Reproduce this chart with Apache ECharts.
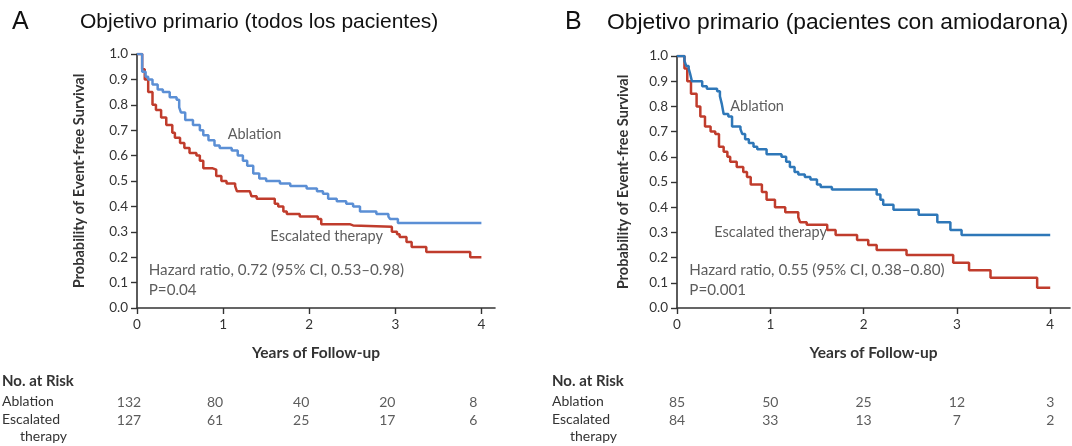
<!DOCTYPE html>
<html>
<head>
<meta charset="utf-8">
<script src="https://cdn.jsdelivr.net/npm/echarts@6/dist/echarts.min.js"></script>
<style>
  html, body { margin: 0; padding: 0; background: #fff; }
  #chart { width: 1072px; height: 446px; }
</style>
</head>
<body>
<div id="chart"></div>
<script>
// Kaplan-Meier event-free survival, two panels
const yearTicks = [0, 1, 2, 3, 4];
const probTicks = [0, 0.1, 0.2, 0.3, 0.4, 0.5, 0.6, 0.7, 0.8, 0.9, 1.0];

// Panel A: all patients
const ablA_t = [0, 0.06, 0.10, 0.13, 0.18, 0.24, 0.30, 0.38, 0.46, 0.49, 0.51, 0.56, 0.65, 0.73, 0.77, 0.83, 0.90, 0.96, 1.10, 1.17, 1.23, 1.28, 1.35, 1.42, 1.50, 1.66, 1.78, 1.97, 2.09, 2.16, 2.22, 2.32, 2.43, 2.51, 2.59, 2.78, 2.92, 2.94, 3.03, 4.00];
const ablA_s = [1.0, 0.93, 0.91, 0.90, 0.88, 0.86, 0.85, 0.83, 0.82, 0.79, 0.77, 0.74, 0.72, 0.70, 0.68, 0.66, 0.64, 0.63, 0.62, 0.60, 0.58, 0.56, 0.53, 0.51, 0.50, 0.49, 0.48, 0.47, 0.46, 0.45, 0.43, 0.42, 0.41, 0.40, 0.38, 0.37, 0.36, 0.35, 0.335, 0.335];
const escA_t = [0, 0.06, 0.09, 0.13, 0.18, 0.22, 0.28, 0.34, 0.41, 0.44, 0.50, 0.55, 0.61, 0.69, 0.73, 0.77, 0.88, 0.92, 0.98, 1.04, 1.14, 1.16, 1.31, 1.33, 1.39, 1.60, 1.64, 1.70, 1.74, 1.89, 2.10, 2.14, 2.47, 2.51, 2.96, 3.02, 3.05, 3.13, 3.19, 3.36, 3.87, 4.00];
const escA_s = [1.0, 0.94, 0.90, 0.85, 0.80, 0.78, 0.75, 0.72, 0.69, 0.67, 0.65, 0.63, 0.61, 0.60, 0.58, 0.55, 0.545, 0.52, 0.50, 0.49, 0.48, 0.46, 0.455, 0.44, 0.43, 0.41, 0.40, 0.38, 0.37, 0.36, 0.35, 0.33, 0.325, 0.32, 0.30, 0.29, 0.28, 0.26, 0.24, 0.22, 0.20, 0.20];

// Panel B: amiodarone patients
const ablB_t = [0, 0.08, 0.10, 0.125, 0.14, 0.16, 0.27, 0.32, 0.43, 0.46, 0.48, 0.50, 0.55, 0.59, 0.68, 0.70, 0.73, 0.77, 0.82, 0.86, 0.96, 1.12, 1.17, 1.21, 1.26, 1.30, 1.37, 1.43, 1.50, 1.54, 1.66, 2.14, 2.18, 2.21, 2.32, 2.59, 2.79, 2.93, 3.05, 4.00];
const ablB_s = [1.0, 0.98, 0.96, 0.95, 0.93, 0.90, 0.88, 0.87, 0.86, 0.84, 0.81, 0.77, 0.76, 0.72, 0.71, 0.69, 0.67, 0.655, 0.64, 0.63, 0.61, 0.60, 0.58, 0.56, 0.54, 0.53, 0.52, 0.51, 0.49, 0.48, 0.47, 0.45, 0.43, 0.41, 0.39, 0.37, 0.34, 0.31, 0.29, 0.29];
const escB_t = [0, 0.08, 0.11, 0.15, 0.21, 0.25, 0.30, 0.36, 0.41, 0.45, 0.50, 0.54, 0.57, 0.64, 0.71, 0.75, 0.79, 0.91, 0.96, 1.05, 1.16, 1.30, 1.32, 1.39, 1.61, 1.70, 1.93, 2.05, 2.14, 2.46, 2.96, 3.13, 3.36, 3.86, 4.00];
const escB_s = [1.0, 0.95, 0.90, 0.85, 0.80, 0.76, 0.72, 0.70, 0.69, 0.64, 0.62, 0.60, 0.58, 0.56, 0.54, 0.52, 0.49, 0.46, 0.43, 0.40, 0.38, 0.36, 0.34, 0.33, 0.31, 0.29, 0.27, 0.25, 0.23, 0.21, 0.18, 0.15, 0.12, 0.08, 0.08];

// Numbers at risk
const riskRows = ['Ablation', 'Escalated'];
const riskA_abl = [132, 80, 40, 20, 8];
const riskA_esc = [127, 61, 25, 17, 6];
const riskB_abl = [85, 50, 25, 12, 3];
const riskB_esc = [84, 33, 13, 7, 2];

const panelTitles = ['Objetivo primario (todos los pacientes)', 'Objetivo primario (pacientes con amiodarona)'];
const hazardText = ['Hazard ratio, 0.72 (95% CI, 0.53\u20130.98)', 'Hazard ratio, 0.55 (95% CI, 0.38\u20130.80)'];
const pText = ['P=0.04', 'P=0.001'];

const RED = '#c03c2c';
const BLUE_A = '#5b8fd5';
const BLUE_B = '#2e77b8';
const TXT = '#333';
const FONT = 'Lato, "Open Sans", sans-serif';
const TITLE_FONT = '"Liberation Sans", Arial, sans-serif';

const zip = (t, s) => t.map((v, i) => [v, s[i]]);

function mainX(gridIndex, max) {
  return {
    type: 'value', gridIndex, min: 0, max,
    axisLine: { show: true, lineStyle: { color: '#333', width: 1.6 } },
    axisTick: { show: true, length: 6, customValues: yearTicks, lineStyle: { color: '#333', width: 1.4 } },
    axisLabel: { customValues: yearTicks, margin: 10, fontFamily: FONT, fontSize: 13.5, color: TXT },
    splitLine: { show: false },
    name: 'Years of Follow-up', nameLocation: 'middle', nameGap: 37,
    nameTextStyle: { fontFamily: FONT, fontSize: 15.5, fontWeight: 'bold', color: TXT }
  };
}
function mainY(gridIndex, gap) {
  return {
    type: 'value', gridIndex, min: 0, max: 1, interval: 0.1,
    axisLine: { show: true, lineStyle: { color: '#333', width: 1.6 } },
    axisTick: { show: true, length: 6, lineStyle: { color: '#333', width: 1.4 } },
    axisLabel: { margin: 9, fontFamily: FONT, fontSize: 13.5, color: TXT, formatter: v => v.toFixed(1) },
    splitLine: { show: false },
    name: 'Probability of Event-free Survival', nameLocation: 'middle', nameGap: gap,
    nameTextStyle: { fontFamily: FONT, fontSize: 14.6, fontWeight: 'bold', color: TXT }
  };
}
function riskX(gridIndex, max) {
  return { type: 'value', gridIndex, min: 0, max, show: false };
}
function riskY(gridIndex) {
  return { type: 'category', gridIndex, data: riskRows, inverse: true, show: false };
}
function curve(name, xi, data, color) {
  return {
    type: 'line', name, xAxisIndex: xi, yAxisIndex: xi, data, step: 'end',
    symbol: 'none', lineStyle: { color, width: 2.5 }, silent: true, z: 3
  };
}
function notes(xi, items) {
  return {
    type: 'scatter', xAxisIndex: xi, yAxisIndex: xi, symbolSize: 0, silent: true,
    data: items.map(it => ({ value: [it[0], it[1]], label: { formatter: it[2], fontSize: it[3] } })),
    label: { show: true, position: 'inside', align: 'left', verticalAlign: 'middle',
      fontFamily: FONT, fontSize: 14.5, color: TXT }
  };
}
function riskSeries(xi, abl, esc) {
  const data = [];
  yearTicks.forEach((t, i) => {
    data.push({ value: [t, 'Ablation'], label: { formatter: String(abl[i]) } });
    data.push({ value: [t, 'Escalated'], label: { formatter: String(esc[i]) } });
  });
  return {
    type: 'scatter', xAxisIndex: xi, yAxisIndex: xi, symbolSize: 0, silent: true, data,
    label: { show: true, position: 'inside', align: 'center', verticalAlign: 'middle',
      fontFamily: FONT, fontSize: 14, color: TXT }
  };
}

const maxA = 4.158, maxB = 4.212;

const option = {
  animation: false,
  backgroundColor: '#fff',
  grid: [
    { left: 137, top: 54, width: 358, height: 254 },
    { left: 677, top: 56, width: 393, height: 252 },
    { left: 129, top: 393, width: 358, height: 36 },
    { left: 677, top: 393, width: 393, height: 36 }
  ],
  xAxis: [mainX(0, maxA), mainX(1, maxB), riskX(2, maxA), riskX(3, maxB)],
  yAxis: [mainY(0, 50), mainY(1, 46), riskY(2), riskY(3)],
  series: [
    curve('Escalated therapy', 0, zip(escA_t, escA_s), RED),
    curve('Ablation', 0, zip(ablA_t, ablA_s), BLUE_A),
    curve('Escalated therapy', 1, zip(escB_t, escB_s), RED),
    curve('Ablation', 1, zip(ablB_t, ablB_s), BLUE_B),
    notes(0, [[1.053, 0.682, 'Ablation', 14.5], [1.549, 0.281, 'Escalated therapy', 14.5],
              [0.136, 0.148, hazardText[0], 15.2], [0.136, 0.072, pText[0], 15.2]]),
    notes(1, [[0.571, 0.799, 'Ablation', 14.5], [0.40, 0.30, 'Escalated therapy', 14.5],
              [0.132, 0.149, hazardText[1], 15.2], [0.132, 0.0725, pText[1], 15.2]]),
    riskSeries(2, riskA_abl, riskA_esc),
    riskSeries(3, riskB_abl, riskB_esc)
  ],
  graphic: [
    { type: 'text', left: 12, top: 10, style: { text: 'A', fontFamily: TITLE_FONT, fontSize: 25, fill: '#111' } },
    { type: 'text', left: 80, top: 12, style: { text: panelTitles[0], fontFamily: TITLE_FONT, fontSize: 21, fill: '#111' } },
    { type: 'text', left: 565, top: 10, style: { text: 'B', fontFamily: TITLE_FONT, fontSize: 25, fill: '#111' } },
    { type: 'text', left: 607, top: 11, style: { text: panelTitles[1], fontFamily: TITLE_FONT, fontSize: 22.8, fill: '#111' } },

    { type: 'text', left: 2, top: 374, style: { text: 'No. at Risk', fontFamily: FONT, fontSize: 15, fontWeight: 'bold', fill: TXT } },
    { type: 'text', left: 2, top: 394, style: { text: 'Ablation', fontFamily: FONT, fontSize: 14, fill: TXT } },
    { type: 'text', left: 2, top: 412, style: { text: 'Escalated', fontFamily: FONT, fontSize: 14, fill: TXT } },
    { type: 'text', left: 20, top: 429, style: { text: 'therapy', fontFamily: FONT, fontSize: 14, fill: TXT } },

    { type: 'text', left: 552, top: 374, style: { text: 'No. at Risk', fontFamily: FONT, fontSize: 15, fontWeight: 'bold', fill: TXT } },
    { type: 'text', left: 552, top: 394, style: { text: 'Ablation', fontFamily: FONT, fontSize: 14, fill: TXT } },
    { type: 'text', left: 552, top: 412, style: { text: 'Escalated', fontFamily: FONT, fontSize: 14, fill: TXT } },
    { type: 'text', left: 570, top: 429, style: { text: 'therapy', fontFamily: FONT, fontSize: 14, fill: TXT } }
  ]
};

const chart = echarts.init(document.getElementById('chart'), null, { renderer: 'canvas' });
chart.setOption(option);
</script>
</body>
</html>
